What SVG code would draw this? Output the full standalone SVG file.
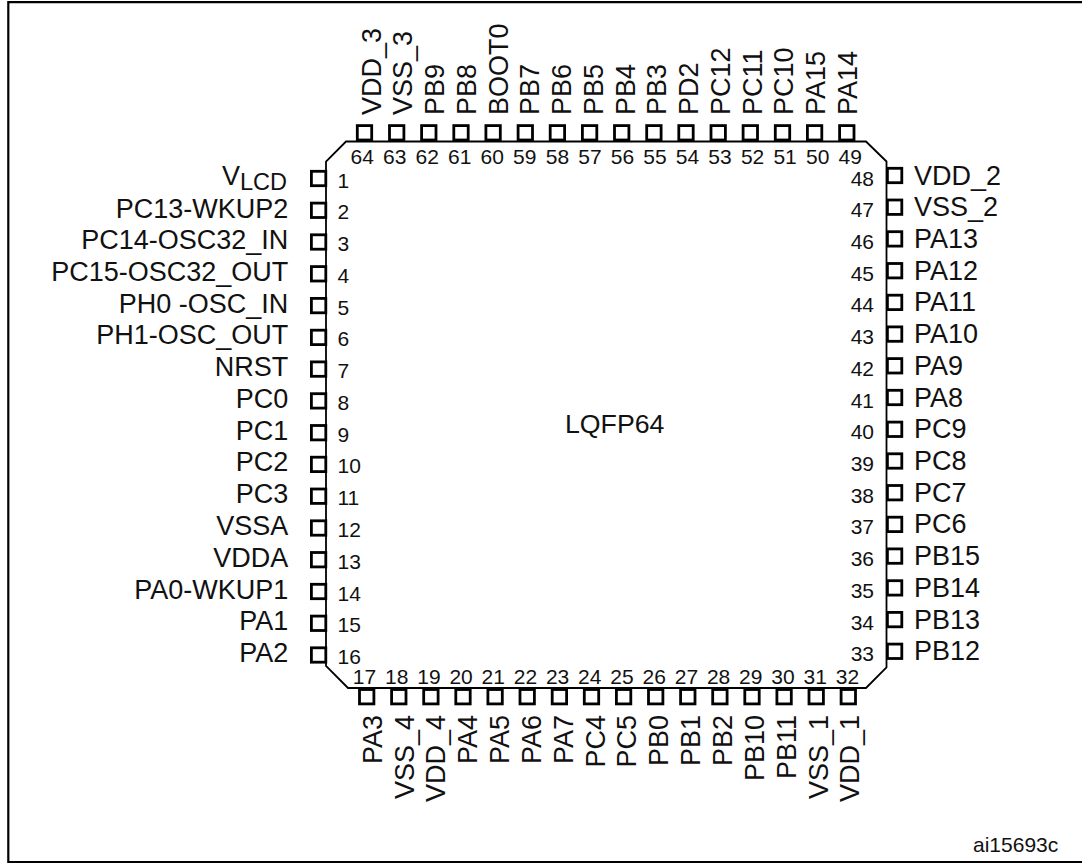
<svg xmlns="http://www.w3.org/2000/svg" width="1082" height="863" viewBox="0 0 1082 863">
<style>
text{font-family:"Liberation Sans",Arial,sans-serif;fill:#111}
.l{font-size:27px}
.n{font-size:21px}
.e{text-anchor:end}
.m{text-anchor:middle}
.p{fill:#fff;stroke:#000;stroke-width:2.8}
.b{fill:none;stroke:#000;stroke-width:1.8}
.f{fill:none;stroke:#000;stroke-width:2.2}
</style>
<g id="frame"><path class="f" d="M8.3 863V2.2H1082M8.3 862H1082"/></g>
<g id="body"><path class="b" d="M346 141.5H866L886.5 161.5V667.5L866 688H348L326 666V161.5Z"/>
<text x="565" y="433.3" font-size="26.7">LQFP64</text></g>
<g id="connectors"></g>
<g id="pin1"><rect class="p" x="311.4" y="171.3" width="14.4" height="14.4"/><text class="l e" x="287" y="185">V<tspan font-size="23.5" dy="5">LCD</tspan></text><text class="n" x="337.5" y="187.5">1</text></g>
<g id="pin2"><rect class="p" x="311.4" y="203.1" width="14.4" height="14.4"/><text class="l e" x="288.3" y="217.5">PC13-WKUP2</text><text class="n" x="337.5" y="219.3">2</text></g>
<g id="pin3"><rect class="p" x="311.4" y="234.8" width="14.4" height="14.4"/><text class="l e" x="288.3" y="249">PC14-OSC32_IN</text><text class="n" x="337.5" y="251">3</text></g>
<g id="pin4"><rect class="p" x="311.4" y="266.6" width="14.4" height="14.4"/><text class="l e" x="288.3" y="280.8">PC15-OSC32_OUT</text><text class="n" x="337.5" y="282.8">4</text></g>
<g id="pin5"><rect class="p" x="311.4" y="298.4" width="14.4" height="14.4"/><text class="l e" x="288.3" y="312.6">PH0 -OSC_IN</text><text class="n" x="337.5" y="314.6">5</text></g>
<g id="pin6"><rect class="p" x="311.4" y="330.2" width="14.4" height="14.4"/><text class="l e" x="288.3" y="344.4">PH1-OSC_OUT</text><text class="n" x="337.5" y="346.4">6</text></g>
<g id="pin7"><rect class="p" x="311.4" y="361.9" width="14.4" height="14.4"/><text class="l e" x="288.3" y="376.1">NRST</text><text class="n" x="337.5" y="378.1">7</text></g>
<g id="pin8"><rect class="p" x="311.4" y="393.7" width="14.4" height="14.4"/><text class="l e" x="288.3" y="407.9">PC0</text><text class="n" x="337.5" y="409.9">8</text></g>
<g id="pin9"><rect class="p" x="311.4" y="425.5" width="14.4" height="14.4"/><text class="l e" x="288.3" y="439.7">PC1</text><text class="n" x="337.5" y="441.7">9</text></g>
<g id="pin10"><rect class="p" x="311.4" y="457.2" width="14.4" height="14.4"/><text class="l e" x="288.3" y="471.4">PC2</text><text class="n" x="337.5" y="473.4">10</text></g>
<g id="pin11"><rect class="p" x="311.4" y="489" width="14.4" height="14.4"/><text class="l e" x="288.3" y="503.2">PC3</text><text class="n" x="337.5" y="505.2">11</text></g>
<g id="pin12"><rect class="p" x="311.4" y="520.8" width="14.4" height="14.4"/><text class="l e" x="288.3" y="535">VSSA</text><text class="n" x="337.5" y="537">12</text></g>
<g id="pin13"><rect class="p" x="311.4" y="552.5" width="14.4" height="14.4"/><text class="l e" x="288.3" y="566.7">VDDA</text><text class="n" x="337.5" y="568.7">13</text></g>
<g id="pin14"><rect class="p" x="311.4" y="584.3" width="14.4" height="14.4"/><text class="l e" x="288.3" y="598.5">PA0-WKUP1</text><text class="n" x="337.5" y="600.5">14</text></g>
<g id="pin15"><rect class="p" x="311.4" y="616.1" width="14.4" height="14.4"/><text class="l e" x="288.3" y="630.3">PA1</text><text class="n" x="337.5" y="632.3">15</text></g>
<g id="pin16"><rect class="p" x="311.4" y="647.8" width="14.4" height="14.4"/><text class="l e" x="288.3" y="662">PA2</text><text class="n" x="337.5" y="664">16</text></g>
<g id="pin17"><rect class="p" x="359.5" y="689.5" width="14.4" height="14.4"/><text class="n m" x="364.5" y="683.5">17</text><text class="l e" transform="translate(381.7,715) rotate(-90)">PA3</text></g>
<g id="pin18"><rect class="p" x="391.6" y="689.5" width="14.4" height="14.4"/><text class="n m" x="396.7" y="683.5">18</text><text class="l e" transform="translate(413.5,715) rotate(-90)">VSS_4</text></g>
<g id="pin19"><rect class="p" x="423.7" y="689.5" width="14.4" height="14.4"/><text class="n m" x="428.9" y="683.5">19</text><text class="l e" transform="translate(445.4,715) rotate(-90)">VDD_4</text></g>
<g id="pin20"><rect class="p" x="455.8" y="689.5" width="14.4" height="14.4"/><text class="n m" x="461.1" y="683.5">20</text><text class="l e" transform="translate(477.2,715) rotate(-90)">PA4</text></g>
<g id="pin21"><rect class="p" x="487.9" y="689.5" width="14.4" height="14.4"/><text class="n m" x="493.3" y="683.5">21</text><text class="l e" transform="translate(509.1,715) rotate(-90)">PA5</text></g>
<g id="pin22"><rect class="p" x="520" y="689.5" width="14.4" height="14.4"/><text class="n m" x="525.5" y="683.5">22</text><text class="l e" transform="translate(540.9,715) rotate(-90)">PA6</text></g>
<g id="pin23"><rect class="p" x="552.2" y="689.5" width="14.4" height="14.4"/><text class="n m" x="557.6" y="683.5">23</text><text class="l e" transform="translate(572.7,715) rotate(-90)">PA7</text></g>
<g id="pin24"><rect class="p" x="584.3" y="689.5" width="14.4" height="14.4"/><text class="n m" x="589.8" y="683.5">24</text><text class="l e" transform="translate(604.6,715) rotate(-90)">PC4</text></g>
<g id="pin25"><rect class="p" x="616.4" y="689.5" width="14.4" height="14.4"/><text class="n m" x="622" y="683.5">25</text><text class="l e" transform="translate(636.4,715) rotate(-90)">PC5</text></g>
<g id="pin26"><rect class="p" x="648.5" y="689.5" width="14.4" height="14.4"/><text class="n m" x="654.2" y="683.5">26</text><text class="l e" transform="translate(668.3,715) rotate(-90)">PB0</text></g>
<g id="pin27"><rect class="p" x="680.6" y="689.5" width="14.4" height="14.4"/><text class="n m" x="686.4" y="683.5">27</text><text class="l e" transform="translate(700.1,715) rotate(-90)">PB1</text></g>
<g id="pin28"><rect class="p" x="712.7" y="689.5" width="14.4" height="14.4"/><text class="n m" x="718.6" y="683.5">28</text><text class="l e" transform="translate(732,715) rotate(-90)">PB2</text></g>
<g id="pin29"><rect class="p" x="744.8" y="689.5" width="14.4" height="14.4"/><text class="n m" x="750.8" y="683.5">29</text><text class="l e" transform="translate(763.8,715) rotate(-90)">PB10</text></g>
<g id="pin30"><rect class="p" x="776.9" y="689.5" width="14.4" height="14.4"/><text class="n m" x="783" y="683.5">30</text><text class="l e" transform="translate(795.6,715) rotate(-90)">PB11</text></g>
<g id="pin31"><rect class="p" x="809" y="689.5" width="14.4" height="14.4"/><text class="n m" x="815.2" y="683.5">31</text><text class="l e" transform="translate(827.5,715) rotate(-90)">VSS_1</text></g>
<g id="pin32"><rect class="p" x="841.1" y="689.5" width="14.4" height="14.4"/><text class="n m" x="847.4" y="683.5">32</text><text class="l e" transform="translate(859.3,715) rotate(-90)">VDD_1</text></g>
<g id="pin33"><rect class="p" x="887.4" y="644.1" width="14.4" height="14.4"/><text class="n e" x="874" y="661.3">33</text><text class="l" x="914" y="660.3">PB12</text></g>
<g id="pin34"><rect class="p" x="887.4" y="612.4" width="14.4" height="14.4"/><text class="n e" x="874" y="629.6">34</text><text class="l" x="914" y="628.6">PB13</text></g>
<g id="pin35"><rect class="p" x="887.4" y="580.7" width="14.4" height="14.4"/><text class="n e" x="874" y="597.9">35</text><text class="l" x="914" y="596.9">PB14</text></g>
<g id="pin36"><rect class="p" x="887.4" y="548.9" width="14.4" height="14.4"/><text class="n e" x="874" y="566.1">36</text><text class="l" x="914" y="565.1">PB15</text></g>
<g id="pin37"><rect class="p" x="887.4" y="517.2" width="14.4" height="14.4"/><text class="n e" x="874" y="534.4">37</text><text class="l" x="914" y="533.4">PC6</text></g>
<g id="pin38"><rect class="p" x="887.4" y="485.5" width="14.4" height="14.4"/><text class="n e" x="874" y="502.7">38</text><text class="l" x="914" y="501.7">PC7</text></g>
<g id="pin39"><rect class="p" x="887.4" y="453.8" width="14.4" height="14.4"/><text class="n e" x="874" y="471">39</text><text class="l" x="914" y="470">PC8</text></g>
<g id="pin40"><rect class="p" x="887.4" y="422.1" width="14.4" height="14.4"/><text class="n e" x="874" y="439.3">40</text><text class="l" x="914" y="438.3">PC9</text></g>
<g id="pin41"><rect class="p" x="887.4" y="390.3" width="14.4" height="14.4"/><text class="n e" x="874" y="407.5">41</text><text class="l" x="914" y="406.5">PA8</text></g>
<g id="pin42"><rect class="p" x="887.4" y="358.6" width="14.4" height="14.4"/><text class="n e" x="874" y="375.8">42</text><text class="l" x="914" y="374.8">PA9</text></g>
<g id="pin43"><rect class="p" x="887.4" y="326.9" width="14.4" height="14.4"/><text class="n e" x="874" y="344.1">43</text><text class="l" x="914" y="343.1">PA10</text></g>
<g id="pin44"><rect class="p" x="887.4" y="295.2" width="14.4" height="14.4"/><text class="n e" x="874" y="312.4">44</text><text class="l" x="914" y="311.4">PA11</text></g>
<g id="pin45"><rect class="p" x="887.4" y="263.5" width="14.4" height="14.4"/><text class="n e" x="874" y="280.7">45</text><text class="l" x="914" y="279.7">PA12</text></g>
<g id="pin46"><rect class="p" x="887.4" y="231.7" width="14.4" height="14.4"/><text class="n e" x="874" y="248.9">46</text><text class="l" x="914" y="247.9">PA13</text></g>
<g id="pin47"><rect class="p" x="887.4" y="200" width="14.4" height="14.4"/><text class="n e" x="874" y="217.2">47</text><text class="l" x="914" y="216.2">VSS_2</text></g>
<g id="pin48"><rect class="p" x="887.4" y="168.3" width="14.4" height="14.4"/><text class="n e" x="874" y="185.5">48</text><text class="l" x="914" y="184.5">VDD_2</text></g>
<g id="pin49"><rect class="p" x="839.6" y="125.6" width="14.4" height="14.4"/><text class="n m" x="850.2" y="164">49</text><text class="l" transform="translate(856.7,115) rotate(-90)">PA14</text></g>
<g id="pin50"><rect class="p" x="807.4" y="125.6" width="14.4" height="14.4"/><text class="n m" x="817.7" y="164">50</text><text class="l" transform="translate(824.9,115) rotate(-90)">PA15</text></g>
<g id="pin51"><rect class="p" x="775.3" y="125.6" width="14.4" height="14.4"/><text class="n m" x="785.1" y="164">51</text><text class="l" transform="translate(793.2,115) rotate(-90)">PC10</text></g>
<g id="pin52"><rect class="p" x="743.1" y="125.6" width="14.4" height="14.4"/><text class="n m" x="752.6" y="164">52</text><text class="l" transform="translate(761.5,115) rotate(-90)">PC11</text></g>
<g id="pin53"><rect class="p" x="711" y="125.6" width="14.4" height="14.4"/><text class="n m" x="720" y="164">53</text><text class="l" transform="translate(729.7,115) rotate(-90)">PC12</text></g>
<g id="pin54"><rect class="p" x="678.8" y="125.6" width="14.4" height="14.4"/><text class="n m" x="687.5" y="164">54</text><text class="l" transform="translate(698,115) rotate(-90)">PD2</text></g>
<g id="pin55"><rect class="p" x="646.7" y="125.6" width="14.4" height="14.4"/><text class="n m" x="655" y="164">55</text><text class="l" transform="translate(666.3,115) rotate(-90)">PB3</text></g>
<g id="pin56"><rect class="p" x="614.5" y="125.6" width="14.4" height="14.4"/><text class="n m" x="622.5" y="164">56</text><text class="l" transform="translate(634.5,115) rotate(-90)">PB4</text></g>
<g id="pin57"><rect class="p" x="582.4" y="125.6" width="14.4" height="14.4"/><text class="n m" x="589.9" y="164">57</text><text class="l" transform="translate(602.8,115) rotate(-90)">PB5</text></g>
<g id="pin58"><rect class="p" x="550.2" y="125.6" width="14.4" height="14.4"/><text class="n m" x="557.4" y="164">58</text><text class="l" transform="translate(571.1,115) rotate(-90)">PB6</text></g>
<g id="pin59"><rect class="p" x="518.1" y="125.6" width="14.4" height="14.4"/><text class="n m" x="524.8" y="164">59</text><text class="l" transform="translate(539.4,115) rotate(-90)">PB7</text></g>
<g id="pin60"><rect class="p" x="485.9" y="125.6" width="14.4" height="14.4"/><text class="n m" x="492.3" y="164">60</text><text class="l" transform="translate(507.6,115) rotate(-90)">BOOT0</text></g>
<g id="pin61"><rect class="p" x="453.8" y="125.6" width="14.4" height="14.4"/><text class="n m" x="459.8" y="164">61</text><text class="l" transform="translate(475.9,115) rotate(-90)">PB8</text></g>
<g id="pin62"><rect class="p" x="421.6" y="125.6" width="14.4" height="14.4"/><text class="n m" x="427.3" y="164">62</text><text class="l" transform="translate(444.2,115) rotate(-90)">PB9</text></g>
<g id="pin63"><rect class="p" x="389.5" y="125.6" width="14.4" height="14.4"/><text class="n m" x="394.8" y="164">63</text><text class="l" transform="translate(412.4,115) rotate(-90)">VSS_3</text></g>
<g id="pin64"><rect class="p" x="357.3" y="125.6" width="14.4" height="14.4"/><text class="n m" x="362.3" y="164">64</text><text class="l" transform="translate(380.7,115) rotate(-90)">VDD_3</text></g>
<g id="ref"><text class="n" x="973" y="851.7">ai15693c</text></g>
</svg>
